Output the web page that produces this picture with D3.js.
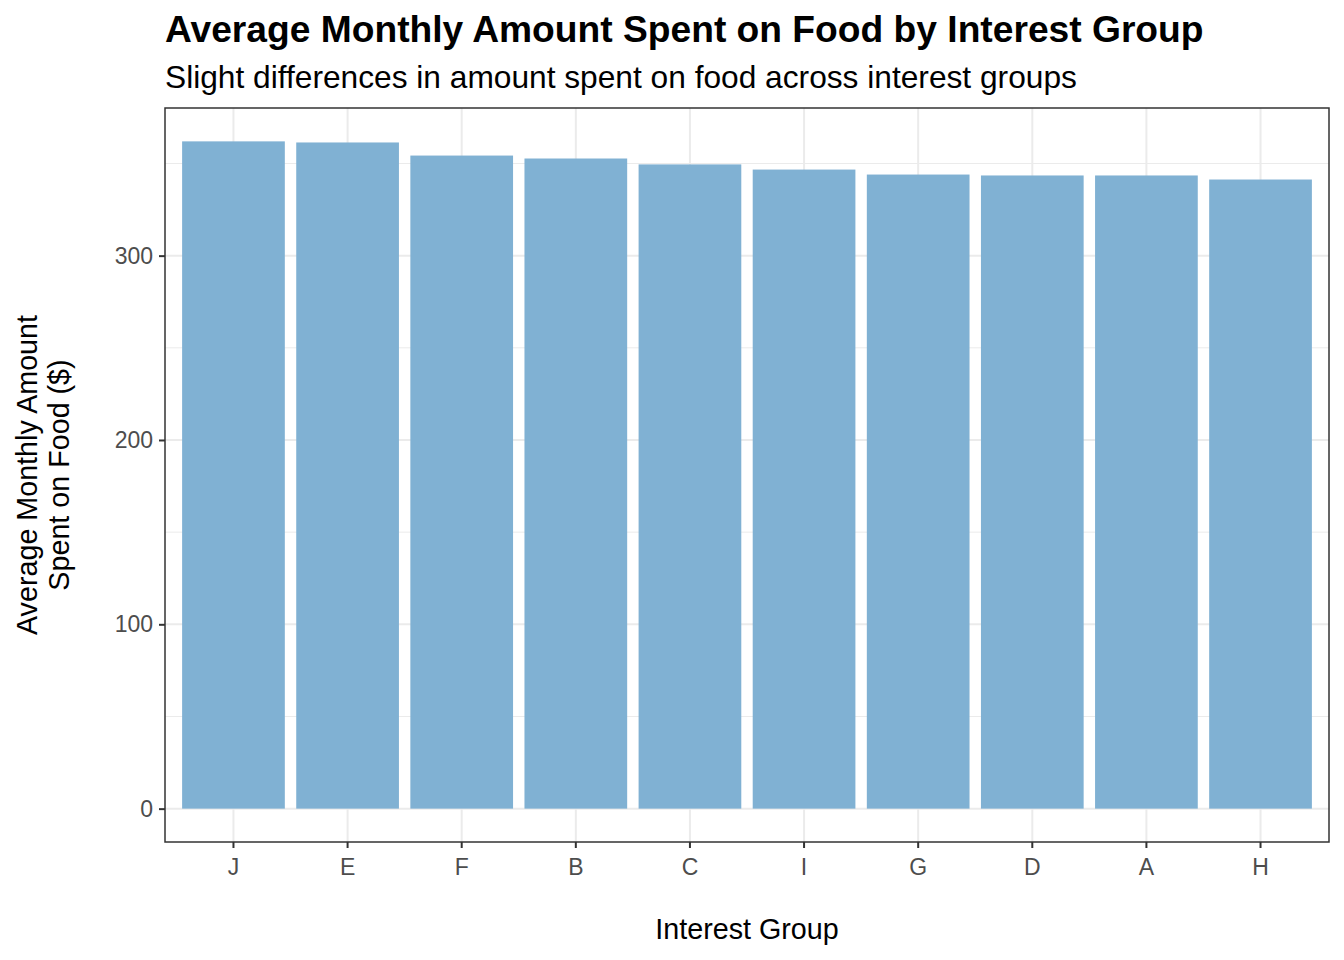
<!DOCTYPE html>
<html>
<head>
<meta charset="utf-8">
<script src="https://cdn.jsdelivr.net/npm/d3@7"></script>
<style>
  body { margin: 0; background: #fff; }
  text { font-family: "Liberation Sans", Arial, sans-serif; }
</style>
</head>
<body>
<div id="chart"></div>
<script>
// data
var groups = ["J", "E", "F", "B", "C", "I", "G", "D", "A", "H"];
var avgFood = [362.0, 361.4, 354.3, 352.7, 349.5, 346.7, 344.0, 343.5, 343.5, 341.3];
var yTicks = [0, 100, 200, 300];
var yMinor = [50, 150, 250, 350];

var width = 1344, height = 960;
var margin = { top: 108, right: 15, bottom: 118, left: 165 };
var innerW = width - margin.left - margin.right;
var innerH = height - margin.top - margin.bottom;

var svg = d3.select("#chart").append("svg")
  .attr("width", width)
  .attr("height", height);

// ggplot style: bar centres 0.6 step from the panel edges, bars 0.9 wide
var x = d3.scaleBand()
  .domain(groups)
  .range([0, innerW])
  .paddingInner(0.1)
  .paddingOuter(0.15);

var yMax = d3.max(avgFood);
var y = d3.scaleLinear()
  .domain([-yMax * 0.05, yMax * 1.05])
  .range([innerH, 0]);

var g = svg.append("g")
  .attr("transform", "translate(" + margin.left + "," + margin.top + ")");

// grid
g.selectAll(".minor").data(yMinor).enter().append("line")
  .attr("x1", 0).attr("x2", innerW)
  .attr("y1", function(d) { return y(d); })
  .attr("y2", function(d) { return y(d); })
  .attr("stroke", "#EBEBEB").attr("stroke-width", 1);

g.selectAll(".major").data(yTicks).enter().append("line")
  .attr("x1", 0).attr("x2", innerW)
  .attr("y1", function(d) { return y(d); })
  .attr("y2", function(d) { return y(d); })
  .attr("stroke", "#EBEBEB").attr("stroke-width", 2);

g.selectAll(".vgrid").data(groups).enter().append("line")
  .attr("x1", function(d) { return x(d) + x.bandwidth() / 2; })
  .attr("x2", function(d) { return x(d) + x.bandwidth() / 2; })
  .attr("y1", 0).attr("y2", innerH)
  .attr("stroke", "#EBEBEB").attr("stroke-width", 2);

// bars
g.selectAll(".bar").data(avgFood).enter().append("rect")
  .attr("x", function(d, i) { return x(groups[i]); })
  .attr("width", x.bandwidth())
  .attr("y", function(d) { return y(d); })
  .attr("height", function(d) { return y(0) - y(d); })
  .attr("fill", "#80B1D3");

// panel border
g.append("rect")
  .attr("width", innerW).attr("height", innerH)
  .attr("fill", "none").attr("stroke", "#333333").attr("stroke-width", 1.5);

// axes
var xAxis = g.append("g")
  .attr("transform", "translate(0," + innerH + ")")
  .call(d3.axisBottom(x).tickSize(6).tickPadding(6));
var yAxis = g.append("g")
  .call(d3.axisLeft(y).tickValues(yTicks).tickSize(6).tickPadding(6));

[xAxis, yAxis].forEach(function(a) {
  a.select(".domain").remove();
  a.selectAll(".tick line").attr("stroke", "#333333").attr("stroke-width", 2);
  a.selectAll(".tick text")
    .attr("fill", "#4D4D4D")
    .style("font-size", "23px");
});
xAxis.selectAll(".tick text").attr("dy", "0.9em");

// titles
svg.append("text")
  .attr("x", 165).attr("y", 42)
  .style("font-size", "37.2px").style("font-weight", "bold")
  .text("Average Monthly Amount Spent on Food by Interest Group");

svg.append("text")
  .attr("x", 165).attr("y", 88)
  .style("font-size", "31.7px")
  .text("Slight differences in amount spent on food across interest groups");

svg.append("text")
  .attr("x", margin.left + innerW / 2).attr("y", 939)
  .attr("text-anchor", "middle")
  .style("font-size", "28.7px")
  .text("Interest Group");

var yTitle = svg.append("text")
  .attr("transform", "translate(0," + (margin.top + innerH / 2) + ") rotate(-90)")
  .attr("text-anchor", "middle")
  .style("font-size", "28.7px");
yTitle.append("tspan").attr("x", 0).attr("y", 37).text("Average Monthly Amount");
yTitle.append("tspan").attr("x", 0).attr("y", 69).text("Spent on Food ($)");
</script>
</body>
</html>
